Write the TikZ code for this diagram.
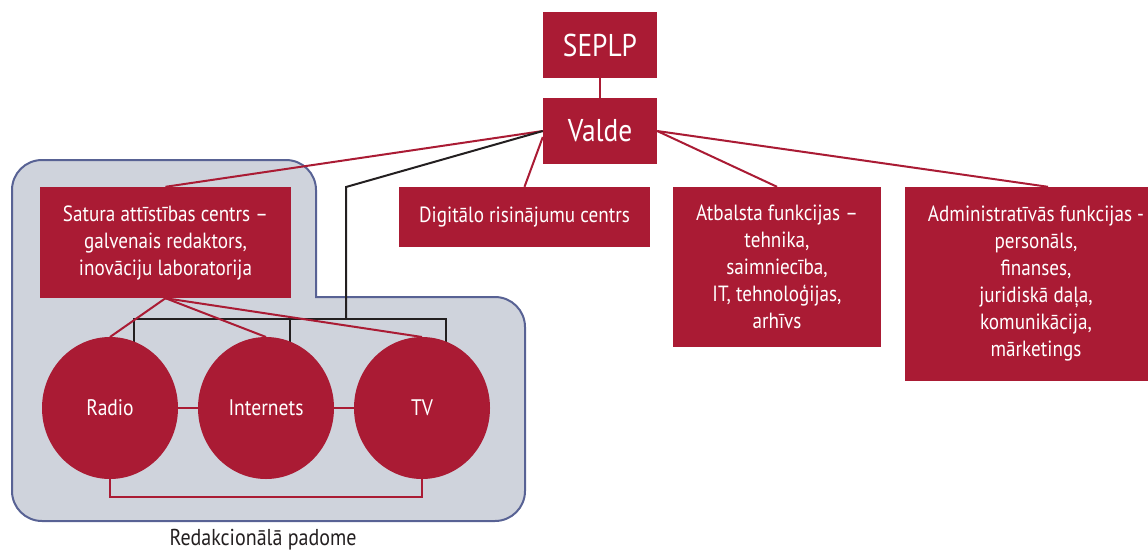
\documentclass[tikz,border=0pt]{standalone}
\usepackage{fontspec}
\setmainfont{PT Sans}[FakeStretch=0.87]
\usetikzlibrary{calc,shapes.geometric}
\definecolor{brand}{RGB}{170,27,52}
\definecolor{regfill}{RGB}{207,211,220}
\definecolor{regline}{RGB}{88,98,148}
\definecolor{ink}{RGB}{35,31,32}
\tikzset{
  box/.style={fill=brand, text=white, align=center, inner sep=0pt,
    font=\fontsize{22}{27}\selectfont},
  bigbox/.style={box, font=\fontsize{31.5}{34}\selectfont},
  unit/.style={ellipse, fill=brand, text=white, inner sep=0pt,
    minimum width=136, minimum height=142, font=\fontsize{22.5}{25}\selectfont},
  redline/.style={draw=brand, line width=2pt},
  blkline/.style={draw=ink, line width=2pt},
  region/.style={fill=regfill, draw=regline, line width=2pt},
}
\begin{document}
\begin{tikzpicture}[x=1pt,y=-1pt]
\useasboundingbox (0,0) rectangle (1148,555);
\clip (0,0) rectangle (1148,555);
% region
\path[region] (316,297) -- (495,297) arc[start angle=-90,end angle=0,radius=30]
  -- (525,491) arc[start angle=0,end angle=90,radius=30]
  -- (42,521) arc[start angle=90,end angle=180,radius=30]
  -- (12,190) arc[start angle=180,end angle=270,radius=30]
  -- (286,160) arc[start angle=270,end angle=360,radius=30]
  -- cycle;
\node[font=\fontsize{23}{26}\selectfont, text=ink, inner sep=0pt] (rp) at (263,540) {Redakcionālā padome};
% boxes
\node[bigbox, minimum width=114, minimum height=66] (seplp) at (600,45) {SEPLP};
\node[bigbox, minimum width=114, minimum height=66] (valde) at (600,131) {Valde};
\node[box, minimum width=251, minimum height=111] (satura) at (165.5,242.5)
  {Satura attīstības centrs –\\galvenais redaktors,\\inovāciju laboratorija};
\node[box, minimum width=251, minimum height=60] (digital) at (524.5,217)
  {Digitālo risinājumu centrs};
\node[box, minimum width=208, minimum height=160] (atbalsta) at (777,267)
  {Atbalsta funkcijas –\\tehnika,\\saimniecība,\\IT, tehnoloģijas,\\arhīvs};
\node[box, minimum width=262, minimum height=194] (admin) at (1036,284)
  {Administratīvās funkcijas -\\personāls,\\finanses,\\juridiskā daļa,\\komunikācija,\\mārketings};
% top connectors
\draw[redline] (seplp) -- (valde);
\draw[redline] (valde.west) -- (satura.north);
\draw[redline] ($(valde.west)+(0,6)$) -- (digital.north);
\draw[redline] (valde.east) -- (atbalsta.north);
\draw[redline] (valde.east) -- ($(admin.north)+(12,0)$);
% circles positions
\coordinate (rc) at (110,408);
\coordinate (ic) at (266,408);
\coordinate (tc) at (422,408);
\coordinate (bj) at (346,187);
\coordinate (bbar) at (346,319);
% black connector
\draw[blkline] (valde.west) -- (bj) -- (bbar);
\draw[blkline] ($(rc)+(24,0)$) |- (bbar) -| ($(tc)+(24,0)$);
\draw[blkline] ($(ic)+(24,0)$) -- ($(ic)+(24,-89)$);
% red inner connectors
\draw[redline] (satura.south) -- ($(rc)+(0,-71)$);
\draw[redline] (satura.south) -- ($(ic)+(0,-71)$);
\draw[redline] (satura.south) -- ($(tc)+(0,-71)$);
\draw[redline] (rc) -- (ic) -- (tc);
\draw[redline] (rc) -- ($(rc)+(0,89)$) -| (tc);
% circles
\node[unit] (radio) at (rc) {Radio};
\node[unit] (inet) at (ic) {Internets};
\node[unit] (tv) at (tc) {TV};
\end{tikzpicture}
\end{document}
